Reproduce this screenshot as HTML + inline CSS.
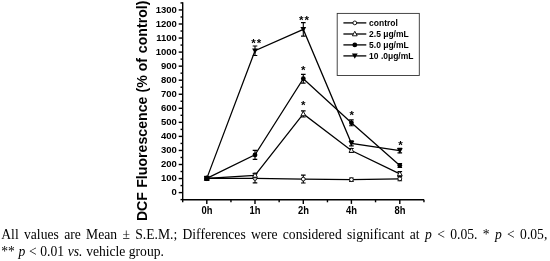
<!DOCTYPE html>
<html><head><meta charset="utf-8"><title>Figure</title>
<style>
html,body{margin:0;padding:0;background:#fff;}
body{width:550px;height:261px;position:relative;overflow:hidden;}
.cap{position:absolute;left:1.3px;width:546px;font-family:"Liberation Serif","Times New Roman",serif;font-size:13.6px;line-height:17px;height:17px;color:#000;margin:0;white-space:nowrap;}
.l1{top:225.7px;text-align:justify;text-align-last:justify;white-space:normal;}
.l2{top:242.6px;}
</style></head><body>
<svg width="550" height="228" viewBox="0 0 550 228" style="position:absolute;left:0;top:0">
<g stroke="#000" stroke-width="1.4" fill="none">
<path d="M182.7 2.22V199.7H424.1"/>
<path d="M180.5 199.62H182.7"/>
<path d="M178.7 192.60H182.7"/>
<path d="M180.5 185.57H182.7"/>
<path d="M178.7 178.55H182.7"/>
<path d="M180.5 171.53H182.7"/>
<path d="M178.7 164.50H182.7"/>
<path d="M180.5 157.47H182.7"/>
<path d="M178.7 150.45H182.7"/>
<path d="M180.5 143.43H182.7"/>
<path d="M178.7 136.40H182.7"/>
<path d="M180.5 129.38H182.7"/>
<path d="M178.7 122.35H182.7"/>
<path d="M180.5 115.32H182.7"/>
<path d="M178.7 108.30H182.7"/>
<path d="M180.5 101.27H182.7"/>
<path d="M178.7 94.25H182.7"/>
<path d="M180.5 87.22H182.7"/>
<path d="M178.7 80.20H182.7"/>
<path d="M180.5 73.17H182.7"/>
<path d="M178.7 66.15H182.7"/>
<path d="M180.5 59.12H182.7"/>
<path d="M178.7 52.10H182.7"/>
<path d="M180.5 45.07H182.7"/>
<path d="M178.7 38.05H182.7"/>
<path d="M180.5 31.03H182.7"/>
<path d="M178.7 24.00H182.7"/>
<path d="M180.5 16.97H182.7"/>
<path d="M178.7 9.95H182.7"/>
<path d="M180.5 2.92H182.7"/>
<path d="M206.8 199.7V203.89999999999998"/>
<path d="M230.95 199.7V202.29999999999998"/>
<path d="M255.0 199.7V203.89999999999998"/>
<path d="M279.15 199.7V202.29999999999998"/>
<path d="M303.3 199.7V203.89999999999998"/>
<path d="M327.45 199.7V202.29999999999998"/>
<path d="M351.4 199.7V203.89999999999998"/>
<path d="M375.55 199.7V202.29999999999998"/>
<path d="M399.8 199.7V203.89999999999998"/>
<path d="M423.95 199.7V202.29999999999998"/>
<path d="M182.7 199.7V202.29999999999998"/>
</g>
<g font-family="Liberation Sans, Arial, sans-serif" font-weight="bold" font-size="9.5px" fill="#000">
<text transform="translate(176.9 195.30) scale(1 1.05)" text-anchor="end">0</text>
<text transform="translate(176.9 181.25) scale(1 1.05)" text-anchor="end">100</text>
<text transform="translate(176.9 167.20) scale(1 1.05)" text-anchor="end">200</text>
<text transform="translate(176.9 153.15) scale(1 1.05)" text-anchor="end">300</text>
<text transform="translate(176.9 139.10) scale(1 1.05)" text-anchor="end">400</text>
<text transform="translate(176.9 125.05) scale(1 1.05)" text-anchor="end">500</text>
<text transform="translate(176.9 111.00) scale(1 1.05)" text-anchor="end">600</text>
<text transform="translate(176.9 96.95) scale(1 1.05)" text-anchor="end">700</text>
<text transform="translate(176.9 82.90) scale(1 1.05)" text-anchor="end">800</text>
<text transform="translate(176.9 68.85) scale(1 1.05)" text-anchor="end">900</text>
<text transform="translate(176.9 54.80) scale(1 1.05)" text-anchor="end">1000</text>
<text transform="translate(176.9 40.75) scale(1 1.05)" text-anchor="end">1100</text>
<text transform="translate(176.9 26.70) scale(1 1.05)" text-anchor="end">1200</text>
<text transform="translate(176.9 12.65) scale(1 1.05)" text-anchor="end">1300</text>
<text transform="translate(206.90 213.7) scale(1 1.1)" text-anchor="middle" font-size="9.4px">0h</text>
<text transform="translate(255.10 213.7) scale(1 1.1)" text-anchor="middle" font-size="9.4px">1h</text>
<text transform="translate(303.40 213.7) scale(1 1.1)" text-anchor="middle" font-size="9.4px">2h</text>
<text transform="translate(351.50 213.7) scale(1 1.1)" text-anchor="middle" font-size="9.4px">4h</text>
<text transform="translate(399.90 213.7) scale(1 1.1)" text-anchor="middle" font-size="9.4px">8h</text>
</g>
<text transform="translate(147.2 221.1) rotate(-90)" font-family="Liberation Sans, Arial, sans-serif" font-weight="bold" font-size="14.15px">DCF <tspan dx="0.3">Fluorescence </tspan><tspan dx="0.2">(% of </tspan><tspan dx="0.8">control)</tspan></text>
<path d="M206.8 178.39L255.0 178.39L303.3 179.09L351.4 179.66L399.8 178.81" fill="none" stroke="#000" stroke-width="1.25"/>
<path d="M255.0 173.89V182.89M252.70 173.89H257.30M252.70 182.89H257.30" fill="none" stroke="#000" stroke-width="1.1"/>
<path d="M303.3 175.15V183.03M301.00 175.15H305.60M301.00 183.03H305.60" fill="none" stroke="#000" stroke-width="1.1"/>
<path d="M351.4 177.97V181.34M349.10 177.97H353.70M349.10 181.34H353.70" fill="none" stroke="#000" stroke-width="1.1"/>
<path d="M399.8 176.84V180.78M397.50 176.84H402.10M397.50 180.78H402.10" fill="none" stroke="#000" stroke-width="1.1"/>
<circle cx="206.8" cy="178.39" r="1.9" fill="#fff" stroke="#000" stroke-width="0.9"/>
<circle cx="255.0" cy="178.39" r="1.9" fill="#fff" stroke="#000" stroke-width="0.9"/>
<circle cx="303.3" cy="179.09" r="1.9" fill="#fff" stroke="#000" stroke-width="0.9"/>
<circle cx="351.4" cy="179.66" r="1.9" fill="#fff" stroke="#000" stroke-width="0.9"/>
<circle cx="399.8" cy="178.81" r="1.9" fill="#fff" stroke="#000" stroke-width="0.9"/>
<path d="M206.8 178.39L255.0 175.43L303.3 113.95L351.4 150.53L399.8 173.89" fill="none" stroke="#000" stroke-width="1.25"/>
<path d="M255.0 173.18V177.69M252.70 173.18H257.30M252.70 177.69H257.30" fill="none" stroke="#000" stroke-width="1.1"/>
<path d="M303.3 110.85V117.04M301.00 110.85H305.60M301.00 117.04H305.60" fill="none" stroke="#000" stroke-width="1.1"/>
<path d="M351.4 148.56V152.50M349.10 148.56H353.70M349.10 152.50H353.70" fill="none" stroke="#000" stroke-width="1.1"/>
<path d="M399.8 171.64V176.14M397.50 171.64H402.10M397.50 176.14H402.10" fill="none" stroke="#000" stroke-width="1.1"/>
<path d="M204.40 180.19L209.20 180.19L206.8 175.69Z" fill="#fff" stroke="#000" stroke-width="0.9"/>
<path d="M252.60 177.23L257.40 177.23L255.0 172.73Z" fill="#fff" stroke="#000" stroke-width="0.9"/>
<path d="M300.90 115.75L305.70 115.75L303.3 111.25Z" fill="#fff" stroke="#000" stroke-width="0.9"/>
<path d="M349.00 152.33L353.80 152.33L351.4 147.83Z" fill="#fff" stroke="#000" stroke-width="0.9"/>
<path d="M397.40 175.69L402.20 175.69L399.8 171.19Z" fill="#fff" stroke="#000" stroke-width="0.9"/>
<path d="M206.8 178.39L255.0 154.89L303.3 78.77L351.4 122.81L399.8 165.59" fill="none" stroke="#000" stroke-width="1.25"/>
<path d="M255.0 150.39V159.39M252.70 150.39H257.30M252.70 159.39H257.30" fill="none" stroke="#000" stroke-width="1.1"/>
<path d="M303.3 74.41V83.14M301.00 74.41H305.60M301.00 83.14H305.60" fill="none" stroke="#000" stroke-width="1.1"/>
<path d="M351.4 119.86V125.77M349.10 119.86H353.70M349.10 125.77H353.70" fill="none" stroke="#000" stroke-width="1.1"/>
<path d="M399.8 163.62V167.56M397.50 163.62H402.10M397.50 167.56H402.10" fill="none" stroke="#000" stroke-width="1.1"/>
<circle cx="206.8" cy="178.39" r="2.4" fill="#000"/>
<circle cx="255.0" cy="154.89" r="2.4" fill="#000"/>
<circle cx="303.3" cy="78.77" r="2.4" fill="#000"/>
<circle cx="351.4" cy="122.81" r="2.4" fill="#000"/>
<circle cx="399.8" cy="165.59" r="2.4" fill="#000"/>
<path d="M206.8 178.39L255.0 50.77L303.3 29.39L351.4 143.35L399.8 150.67" fill="none" stroke="#000" stroke-width="1.25"/>
<path d="M255.0 45.99V55.56M252.70 45.99H257.30M252.70 55.56H257.30" fill="none" stroke="#000" stroke-width="1.1"/>
<path d="M303.3 22.63V36.14M301.00 22.63H305.60M301.00 36.14H305.60" fill="none" stroke="#000" stroke-width="1.1"/>
<path d="M351.4 140.82V145.89M349.10 140.82H353.70M349.10 145.89H353.70" fill="none" stroke="#000" stroke-width="1.1"/>
<path d="M399.8 148.42V152.92M397.50 148.42H402.10M397.50 152.92H402.10" fill="none" stroke="#000" stroke-width="1.1"/>
<path d="M203.90 176.09L209.70 176.09L206.8 181.29Z" fill="#000"/>
<path d="M252.10 48.47L257.90 48.47L255.0 53.67Z" fill="#000"/>
<path d="M300.40 27.09L306.20 27.09L303.3 32.29Z" fill="#000"/>
<path d="M348.50 141.05L354.30 141.05L351.4 146.25Z" fill="#000"/>
<path d="M396.90 148.37L402.70 148.37L399.8 153.57Z" fill="#000"/>
<rect x="204.30" y="175.79" width="5" height="5.2" fill="#000"/>
<g font-family="Liberation Sans, Arial, sans-serif" font-weight="bold" font-size="11.5px" fill="#000" text-anchor="middle">
<text x="256.75" y="46.75" letter-spacing="0.9">**</text>
<text x="304.45" y="23.55" letter-spacing="0.9">**</text>
<text x="303.3" y="74.35">*</text>
<text x="303.3" y="109.25">*</text>
<text x="351.8" y="119.35">*</text>
<text x="400.6" y="149.35">*</text>
</g>
<rect x="337.2" y="13.4" width="82.1" height="62.1" fill="#fff" stroke="#333" stroke-width="0.9"/>
<g font-family="Liberation Sans, Arial, sans-serif" font-weight="bold" font-size="8.5px" fill="#000">
<path d="M343.4 22.9H366.3" stroke="#000" stroke-width="1.3"/>
<circle cx="354.8" cy="22.90" r="1.9" fill="#fff" stroke="#000" stroke-width="0.9"/>
<text transform="translate(369.1 26.10) scale(1 1.08)">control</text>
<path d="M343.4 34H366.3" stroke="#000" stroke-width="1.3"/>
<path d="M352.40 35.80L357.20 35.80L354.8 31.30Z" fill="#fff" stroke="#000" stroke-width="0.9"/>
<text transform="translate(369.1 37.20) scale(1 1.08)">2.5 μg/mL</text>
<path d="M343.4 44.9H366.3" stroke="#000" stroke-width="1.3"/>
<circle cx="354.8" cy="44.90" r="2.4" fill="#000"/>
<text transform="translate(369.1 48.10) scale(1 1.08)">5.0 μg/mL</text>
<path d="M343.4 55.9H366.3" stroke="#000" stroke-width="1.3"/>
<path d="M351.90 53.60L357.70 53.60L354.8 58.80Z" fill="#000"/>
<text transform="translate(369.1 59.10) scale(1 1.08)">10 .0μg/mL</text>
</g>
</svg>
<p class="cap l1">All values are Mean ± S.E.M.; Differences were considered significant at <i>p</i> &lt; 0.05. * <i>p</i> &lt; 0.05,</p>
<p class="cap l2"><span style="word-spacing:0.25px">** <i>p</i> &lt; 0.01 <i>vs.</i> </span>vehicle group.</p>
</body></html>
